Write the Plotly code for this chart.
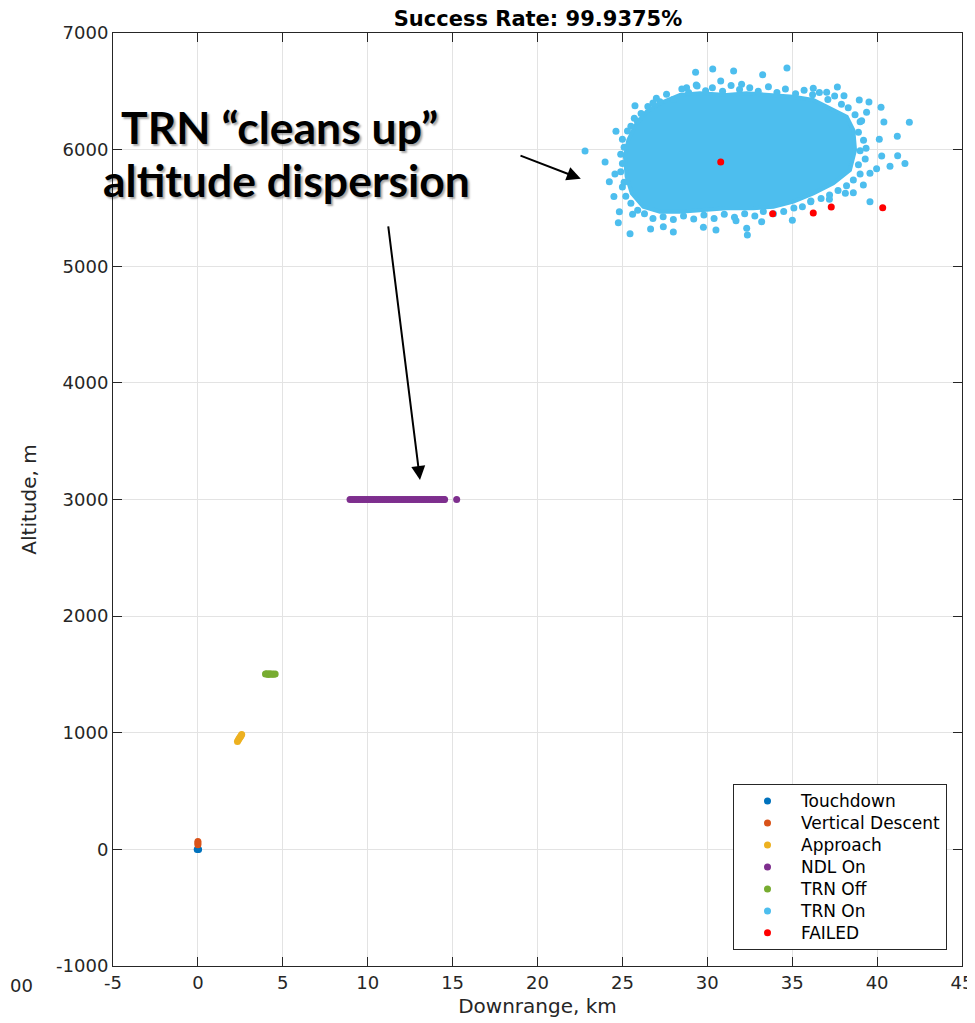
import plotly.graph_objects as go

# ---------------- data ----------------
touch_x = [-0.04, 0.0, 0.04]
touch_y = [0, 3, 0]

vdesc_x = [0.0, 0.0, 0.0]
vdesc_y = [40, 55, 68]

appr_x = [2.33, 2.38, 2.43, 2.48, 2.53, 2.58]
appr_y = [925, 937, 950, 962, 973, 985]

trnoff_x = [3.98, 4.06, 4.14, 4.22, 4.30, 4.38, 4.46, 4.55]
trnoff_y = [1503, 1505, 1500, 1506, 1502, 1504, 1501, 1503]

ndl_x = [8.96, 9.08, 9.20, 9.32, 9.44, 9.56, 9.68, 9.80, 9.92, 10.04, 10.16,
         10.28, 10.40, 10.52, 10.64, 10.76, 10.88, 11.00, 11.12, 11.24, 11.36,
         11.48, 11.60, 11.72, 11.84, 11.96, 12.08, 12.20, 12.32, 12.44, 12.56,
         12.68, 12.80, 12.92, 13.04, 13.16, 13.28, 13.40, 13.52, 13.64, 13.76,
         13.88, 14.00, 14.12, 14.24, 14.36, 14.48, 14.53, 15.24]
ndl_y = [3000] * len(ndl_x)

# outline of the dense TRN On cloud
cloud_x = [27.21, 28.39, 29.57, 31.14, 32.32, 33.50, 35.07, 36.24, 37.42, 38.21,
           38.60, 38.70, 38.40, 37.42, 36.24, 35.07, 33.89, 32.71, 31.14, 29.77,
           28.39, 27.21, 26.23, 25.55, 25.25, 25.15, 25.35, 25.84, 26.43, 27.21]
cloud_y = [6397, 6468, 6483, 6468, 6483, 6468, 6454, 6426, 6340, 6283,
           6168, 5997, 5825, 5711, 5625, 5554, 5511, 5497, 5497, 5482,
           5468, 5468, 5511, 5625, 5768, 5940, 6083, 6225, 6326, 6397]

# individual TRN On points around the dense cloud
trnon_x = [22.80, 23.98, 24.62, 25.74, 25.88, 24.23, 24.56, 24.50, 24.82, 24.76,
           25.45, 25.60, 26.66, 27.41, 28.00, 29.31, 30.32, 31.55, 33.26, 34.69,
           29.35, 30.79, 32.02, 28.78, 27.21, 31.69, 32.32, 32.36, 29.77, 30.51,
           33.20, 35.01, 36.09, 37.19, 38.13, 39.58, 40.76, 41.21, 41.64, 41.19,
           41.90, 40.23, 39.52, 38.95, 38.05, 37.66, 37.03, 36.24, 40.40, 40.13,
           39.97, 39.58, 39.19, 39.35, 40.27, 38.60, 39.09, 39.38,
           27.0, 27.6, 28.0, 28.5, 28.9, 29.4, 29.9, 30.3, 30.9, 31.4,
           31.9, 32.5, 33.0, 33.6, 34.1, 34.6, 35.2, 35.7, 36.2, 36.6,
           37.1, 37.5, 37.9, 38.3,
           38.7, 39.0, 38.9, 39.2, 39.0, 39.3, 38.9, 39.0, 38.6, 38.2,
           37.7, 37.2, 36.7, 36.1, 35.6, 35.1, 34.5, 33.9, 33.3, 32.8,
           32.2, 31.6, 31.0, 30.4, 29.8, 29.2, 28.6, 28.0, 27.4, 26.8,
           26.3, 25.9,
           25.5, 25.2, 25.0, 25.1, 24.9, 25.0, 24.9, 25.1, 25.0, 25.3,
           25.5, 25.7, 26.1, 26.5, 26.8]
trnon_y = [5988, 5894, 6157, 6377, 6245, 5725, 5791, 5597, 5468, 5374,
           5279, 5445, 5319, 5339, 5294, 6663, 6691, 6674, 6643, 6700,
           6554, 6588, 6560, 6531, 6411, 5391, 5325, 5268, 5334, 5311,
           5382, 5394, 5554, 5574, 5625, 5554, 5857, 5948, 5880, 6114,
           6234, 6363, 6408, 6426, 6463, 6537, 6491, 6526, 6237, 6088,
           5837, 5797, 5697, 6011, 5945, 5631, 6248, 6320,
           6440, 6475, 6430, 6520, 6490, 6545, 6505, 6530, 6500, 6550,
           6515, 6530, 6500, 6540, 6490, 6520, 6480, 6510, 6470, 6490,
           6430, 6460, 6390, 6360,
           6300, 6240, 6150, 6080, 5990, 5920, 5870, 5790, 5740, 5690,
           5650, 5610, 5580, 5560, 5510, 5500, 5470, 5450, 5470, 5430,
           5450, 5420, 5445, 5410, 5440, 5405, 5430, 5400, 5425, 5410,
           5450, 5480,
           5540, 5600, 5680, 5720, 5810, 5880, 5960, 6020, 6090, 6160,
           6200, 6270, 6310, 6370, 6400]

failed_x = [30.79, 33.85, 36.24, 37.30, 40.33]
failed_y = [5894, 5451, 5457, 5508, 5502]

series_names = ["Touchdown", "Vertical Descent", "Approach", "NDL On",
                "TRN Off", "TRN On", "FAILED"]
series_colors = ["#0072BD", "#D95319", "#EDB120", "#7E2F8E",
                 "#77AC30", "#4DBEEE", "#FF0000"]

x_ticks = [-5, 0, 5, 10, 15, 20, 25, 30, 35, 40, 45]
y_ticks = [-1000, 0, 1000, 2000, 3000, 4000, 5000, 6000, 7000]

title_text = "Success Rate: 99.9375%"
note_line1 = "TRN \u201ccleans up\u201d"
note_line2 = "altitude dispersion"

# ---------------- figure ----------------
# figure sits 8 px inside the page (body margin), so sizes are reduced accordingly
W, H = 967, 1015
L, R, T, B = 105, 13, 25, 57
PW, PH = W - L - R, H - T - B

MS = 7
fig = go.Figure()


def add_pts(xs, ys, i):
    fig.add_trace(go.Scatter(
        x=xs, y=ys, mode="markers",
        name='<span style="font-size:17px">' + series_names[i] + "</span>",
        marker=dict(size=MS, color=series_colors[i], line=dict(width=0))))


add_pts(touch_x, touch_y, 0)
add_pts(vdesc_x, vdesc_y, 1)
add_pts(appr_x, appr_y, 2)
add_pts(ndl_x, ndl_y, 3)
add_pts(trnoff_x, trnoff_y, 4)
fig.add_trace(go.Scatter(x=cloud_x, y=cloud_y, mode="lines", fill="toself",
                         fillcolor=series_colors[5],
                         line=dict(color=series_colors[5], width=4),
                         showlegend=False, hoverinfo="skip"))
add_pts(trnon_x, trnon_y, 5)
add_pts(failed_x, failed_y, 6)

axis_common = dict(showgrid=True, gridcolor="#e3e3e3", gridwidth=1,
                   zeroline=False, showline=True, linecolor="#262626",
                   linewidth=1, mirror="ticks", ticks="inside", ticklen=9,
                   tickcolor="#262626",
                   tickfont=dict(family="DejaVu Sans", size=18, color="#262626"))

fig.update_xaxes(range=[-5, 45], tickvals=x_ticks,
                 ticktext=[str(v) for v in x_ticks],
                 title=dict(text="Downrange, km", standoff=7,
                            font=dict(family="DejaVu Sans", size=20, color="#262626")),
                 **axis_common)
fig.update_yaxes(range=[-1000, 7000], tickvals=y_ticks,
                 ticktext=[str(v) for v in y_ticks],
                 ticklabelstandoff=0,
                 title=dict(text="Altitude, m", standoff=14,
                            font=dict(family="DejaVu Sans", size=20, color="#262626")),
                 **axis_common)

fig.update_layout(
    width=W, height=H,
    margin=dict(l=L, r=R, t=T, b=B, autoexpand=False),
    plot_bgcolor="white", paper_bgcolor="white",
    title=dict(text="<b>" + title_text + "</b>", x=530 / W, xanchor="center",
               y=1 - 11 / H, yanchor="middle",
               font=dict(family="DejaVu Sans", size=21, color="#000000")),
    legend=dict(x=(939 - L) / PW, xanchor="right",
                y=(T + PH - 942) / PH, yanchor="bottom",
                bgcolor="white", bordercolor="#262626", borderwidth=1,
                font=dict(family="DejaVu Sans", size=14.6, color="#000000"),
                tracegroupgap=0, itemwidth=57),
    showlegend=True,
)


def px_to_paper(fx, fy):
    return (fx - L) / PW, (T + PH - fy) / PH


note_font = dict(family="Lato", size=44.5, color="#000000",
                 shadow="2px 2px 2px rgba(0,0,0,0.35)")
x1, y1 = px_to_paper(271, 119)
x2, y2 = px_to_paper(278, 171)
fig.add_annotation(text="<b>" + note_line1 + "</b>", xref="paper", yref="paper",
                   x=x1, y=y1, xanchor="center", yanchor="middle",
                   showarrow=False, font=note_font)
fig.add_annotation(text="<b>" + note_line2 + "</b>", xref="paper", yref="paper",
                   x=x2, y=y2, xanchor="center", yanchor="middle",
                   showarrow=False, font=note_font)

fig.add_annotation(x=22.55, y=5750, ax=18.91, ay=5954, xref="x", yref="y",
                   axref="x", ayref="y", text="", showarrow=True,
                   arrowhead=2, arrowsize=1.4, arrowwidth=2, arrowcolor="#000000",
                   standoff=0)
fig.add_annotation(x=13.08, y=3167, ax=11.2, ay=5354, xref="x", yref="y",
                   axref="x", ayref="y", text="", showarrow=True,
                   arrowhead=2, arrowsize=1.4, arrowwidth=2, arrowcolor="#000000",
                   standoff=0)

# label fragment at the lower-left edge of the picture
fx0, fy0 = px_to_paper(0, 977)
fig.add_annotation(text="00", xref="paper", yref="paper", x=fx0, y=fy0,
                   xanchor="left", yanchor="middle", showarrow=False,
                   font=dict(family="DejaVu Sans", size=18, color="#262626"))

fig.write_html("out.html")
